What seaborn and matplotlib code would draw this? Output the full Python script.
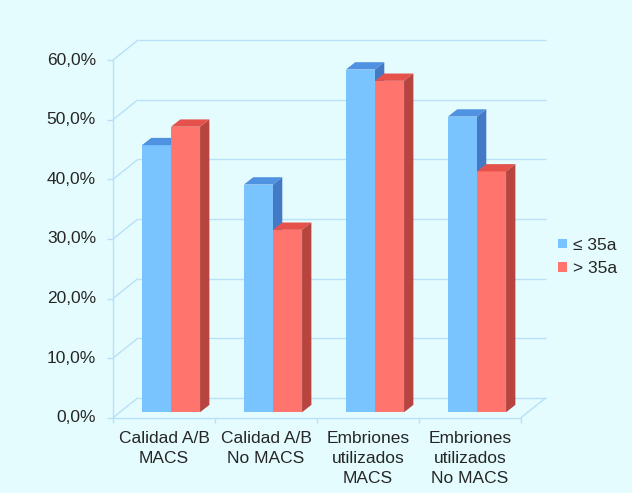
import matplotlib
matplotlib.use("Agg")
import matplotlib.pyplot as plt
from matplotlib.patches import Polygon, Patch
import seaborn as sns
import pandas as pd

# ---- data ----
categories = ["Calidad A/B\nMACS", "Calidad A/B\nNo MACS",
              "Embriones\nutilizados\nMACS", "Embriones\nutilizados\nNo MACS"]
grupos = ["≤ 35a", "> 35a"]
valores_le35 = [44.8, 38.2, 57.5, 49.6]
valores_gt35 = [47.9, 30.6, 55.6, 40.4]
yticks = [0, 10, 20, 30, 40, 50, 60]
ytick_labels = ["0,0%", "10,0%", "20,0%", "30,0%", "40,0%", "50,0%", "60,0%"]

df = pd.DataFrame({
    "categoria": categories * 2,
    "grupo": [grupos[0]] * 4 + [grupos[1]] * 4,
    "valor": valores_le35 + valores_gt35,
})

# ---- style ----
bg = "#E4FCFE"
grid_c = "#B8E0F7"
txt_c = "#262626"
front_c = {grupos[0]: "#79C4FF", grupos[1]: "#FF756E"}
top_c = {grupos[0]: "#4F92E2", grupos[1]: "#E5524B"}
side_c = {grupos[0]: "#4479C6", grupos[1]: "#B7443F"}
fs = 12.5

sns.set_theme(style="white")
plt.rcParams["font.family"] = ["Liberation Sans", "DejaVu Sans"]

W, H = 632, 493
fig = plt.figure(figsize=(W / 100, H / 100), dpi=100, facecolor=bg)
ax = fig.add_axes([0, 0, 1, 1])
ax.set_facecolor(bg)

sns.barplot(data=df, x="categoria", y="valor", hue="grupo", order=categories,
            hue_order=grupos, palette=[front_c[g] for g in grupos],
            width=0.57, saturation=1, legend=False, ax=ax, linewidth=0)

# axes spans the figure: 102 px per category, 5.96 px per percent
X0, Y0, SX, SY = 171.0, 412.2, 102.0, 5.96
ax.set_xlim((0 - X0) / SX, (W - X0) / SX)
ax.set_ylim((Y0 - H) / SY, Y0 / SY)
ax.set_axis_off()

# oblique depth vectors (data units)
FX, FY = -7.0 / SX, -5.5 / SY      # bar plane -> front plane
DX, DY = 25.0 / SX, 20.0 / SY      # full floor depth
BX, BY = 9.3 / SX, 7.3 / SY        # bar depth

xl = -0.5 + FX
xr = len(categories) - 0.5 + FX
lw = 1.0
kw = dict(color=grid_c, lw=lw, zorder=1, solid_capstyle="butt")

# back wall gridlines and left-wall diagonals
for v in yticks:
    ax.plot([xl + DX, xr + DX], [v + FY + DY, v + FY + DY], **kw)
    ax.plot([xl, xl + DX], [v + FY, v + FY + DY], **kw)
# floor
ax.plot([xl, xr], [FY, FY], **kw)
ax.plot([xr, xr + DX], [FY, FY + DY], **kw)
# front value axis and ticks
ax.plot([xl, xl], [FY, 60 + FY], **kw)
for v, lab in zip(yticks, ytick_labels):
    ax.plot([xl - 6 / SX, xl], [v + FY, v + FY], **kw)
    ax.text((96 - X0) / SX, v + FY, lab, ha="right", va="center",
            fontsize=fs, color=txt_c)
# category ticks and labels
for i in range(len(categories) + 1):
    x = i - 0.5 + FX
    ax.plot([x, x], [FY, FY - 5.5 / SY], **kw)
for i, lab in enumerate(categories):
    ax.text(i + FX, FY - 13 / SY, lab, ha="center", va="top",
            fontsize=fs, color=txt_c, linespacing=1.42)

# give each bar its top and side faces
bars = sorted(ax.patches, key=lambda p: p.get_x())
for k, p in enumerate(bars):
    grp = grupos[0] if k % 2 == 0 else grupos[1]
    x0, w, h = p.get_x(), p.get_width(), p.get_height()
    x1 = x0 + w
    z = 3 + k * 0.1
    p.set_zorder(z)
    top = Polygon([(x0, h), (x1, h), (x1 + BX, h + BY), (x0 + BX, h + BY)],
                  closed=True, facecolor=top_c[grp], edgecolor="none", zorder=z)
    side = Polygon([(x1, 0), (x1, h), (x1 + BX, h + BY), (x1 + BX, BY)],
                   closed=True, facecolor=side_c[grp], edgecolor="none", zorder=z)
    ax.add_patch(top)
    ax.add_patch(side)

# legend
handles = [Patch(facecolor=front_c[g], edgecolor="none") for g in grupos]
leg = ax.legend(handles, grupos, loc="center left",
                bbox_to_anchor=(558 / W, 1 - 257 / H), frameon=False,
                fontsize=fs, handlelength=0.5, handleheight=0.5,
                handletextpad=0.35, labelspacing=0.5, borderpad=0,
                borderaxespad=0)
for t in leg.get_texts():
    t.set_color(txt_c)

fig.savefig("out.png", dpi=100, facecolor=bg)
